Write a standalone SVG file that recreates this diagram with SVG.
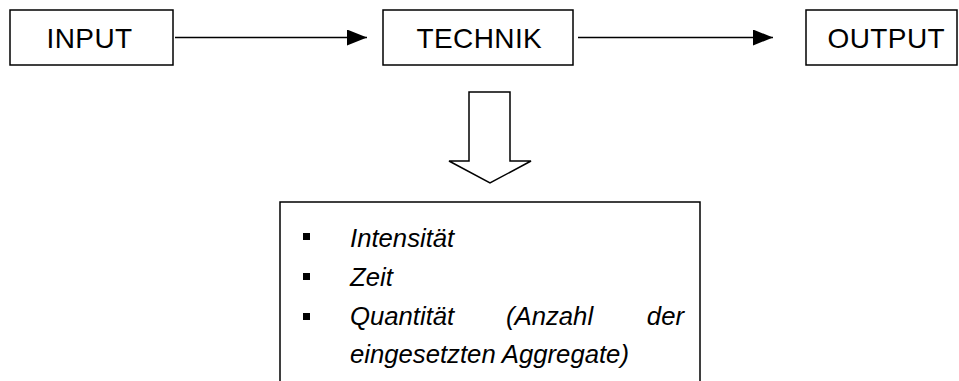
<svg xmlns="http://www.w3.org/2000/svg" width="959" height="381" viewBox="0 0 959 381">
<style>
.box{fill:#fff;stroke:#000;stroke-width:1.5}
.lbl{font-family:"Liberation Sans",Arial,sans-serif;font-size:28px;letter-spacing:0.4px;fill:#000}
.it{font-family:"Liberation Sans",Arial,sans-serif;font-size:25.7px;font-style:italic;fill:#000}
.con{stroke:#000;stroke-width:1.5;fill:none}
.bul{fill:#000}
</style>
<defs>
<marker id="ah" viewBox="0 0 20 16" refX="20" refY="8" markerWidth="20" markerHeight="16" markerUnits="userSpaceOnUse" orient="auto">
<path d="M0,0 L20,8 L0,16 Z" fill="#000"/>
</marker>
</defs>
<g id="input">
<rect class="box" x="10" y="10" width="163" height="55"/>
<text class="lbl" x="46.5" y="48">INPUT</text>
</g>
<g id="technik">
<rect class="box" x="383" y="10" width="190" height="55"/>
<text class="lbl" x="416.5" y="48">TECHNIK</text>
</g>
<g id="output">
<rect class="box" x="806" y="10" width="151" height="55"/>
<text class="lbl" x="827.5" y="48">OUTPUT</text>
</g>
<g id="connectors">
<line class="con" x1="175" y1="37.5" x2="367" y2="37.5" marker-end="url(#ah)"/>
<line class="con" x1="578" y1="37.5" x2="773" y2="37.5" marker-end="url(#ah)"/>
<path class="con" d="M469,161 L469,92 L510,92 L510,161 L531,161 L490,183 L449,161 Z" fill="#fff"/>
</g>
<g id="details">
<path class="con" d="M280,381 L280,202 L700,202 L700,381"/>
<rect class="bul" x="303" y="233" width="7" height="7"/>
<rect class="bul" x="303" y="273" width="7" height="7"/>
<rect class="bul" x="303" y="313" width="7" height="7"/>
<text class="it" x="350" y="247">Intensität</text>
<text class="it" x="350" y="286">Zeit</text>
<text class="it" x="350" y="325">Quantität</text>
<text class="it" x="506" y="325">(Anzahl</text>
<text class="it" x="684" y="325" text-anchor="end">der</text>
<text class="it" x="350" y="363">eingesetzten Aggregate)</text>
</g>
</svg>
